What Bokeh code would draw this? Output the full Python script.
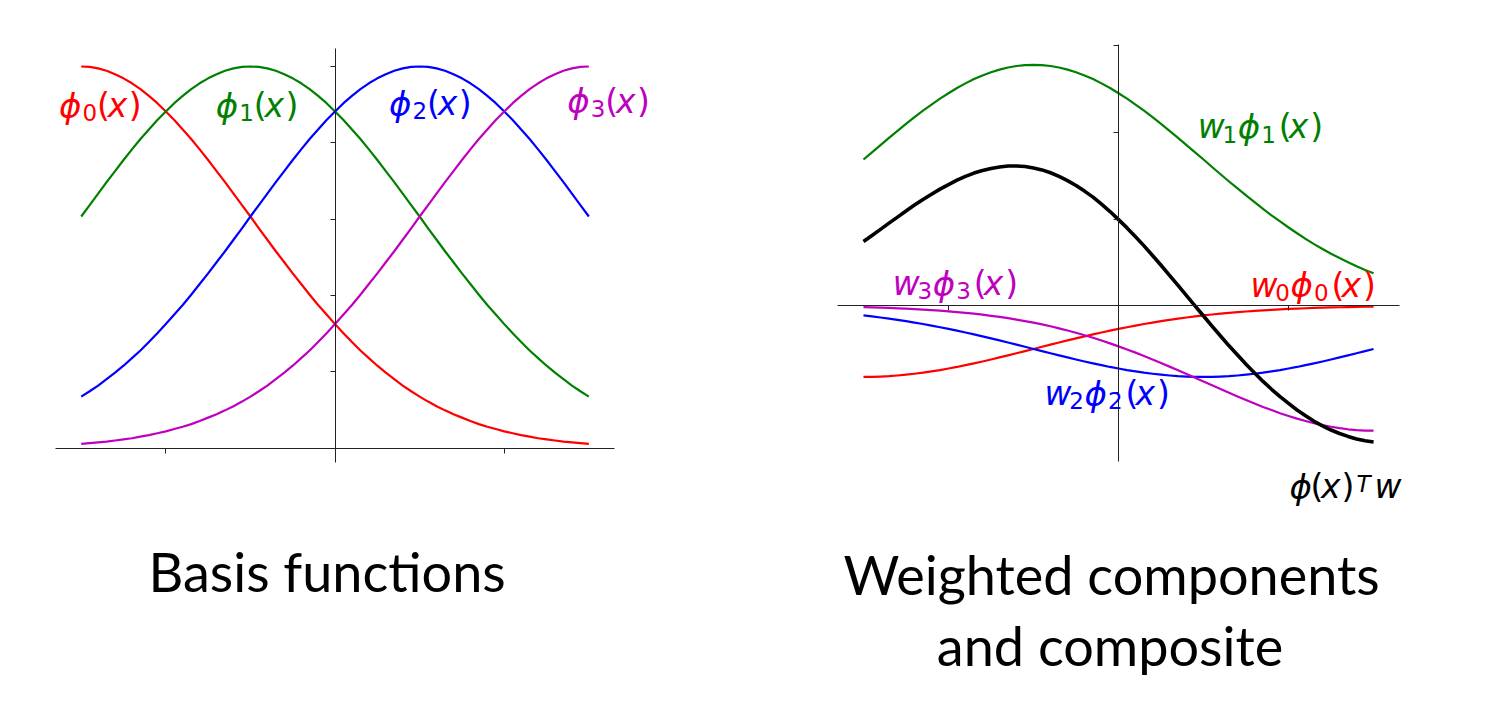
from bokeh.plotting import figure
from bokeh.layouts import row
from bokeh.models import Label, FixedTicker, Range1d
from bokeh.embed import file_html
from bokeh.resources import INLINE

# ---- data ----
x = [-1.50, -1.45, -1.40, -1.35, -1.30, -1.25, -1.20, -1.15, -1.10, -1.05,
     -1.00, -0.95, -0.90, -0.85, -0.80, -0.75, -0.70, -0.65, -0.60, -0.55,
     -0.50, -0.45, -0.40, -0.35, -0.30, -0.25, -0.20, -0.15, -0.10, -0.05,
     0.00, 0.05, 0.10, 0.15, 0.20, 0.25, 0.30, 0.35, 0.40, 0.45,
     0.50, 0.55, 0.60, 0.65, 0.70, 0.75, 0.80, 0.85, 0.90, 0.95,
     1.00, 1.05, 1.10, 1.15, 1.20, 1.25, 1.30, 1.35, 1.40, 1.45, 1.50]

phi0 = [1.000, 0.999, 0.995, 0.989, 0.980, 0.969, 0.956, 0.941, 0.923, 0.904,
        0.882, 0.860, 0.835, 0.810, 0.783, 0.755, 0.726, 0.697, 0.667, 0.637,
        0.607, 0.576, 0.546, 0.516, 0.487, 0.458, 0.430, 0.402, 0.375, 0.350,
        0.325, 0.301, 0.278, 0.256, 0.236, 0.216, 0.198, 0.181, 0.164, 0.149,
        0.135, 0.122, 0.110, 0.099, 0.089, 0.080, 0.071, 0.063, 0.056, 0.050,
        0.044, 0.039, 0.034, 0.030, 0.026, 0.023, 0.020, 0.017, 0.015, 0.013, 0.011]
phi1 = [0.607, 0.637, 0.667, 0.697, 0.726, 0.755, 0.783, 0.810, 0.835, 0.860,
        0.882, 0.904, 0.923, 0.941, 0.956, 0.969, 0.980, 0.989, 0.995, 0.999,
        1.000, 0.999, 0.995, 0.989, 0.980, 0.969, 0.956, 0.941, 0.923, 0.904,
        0.882, 0.860, 0.835, 0.810, 0.783, 0.755, 0.726, 0.697, 0.667, 0.637,
        0.607, 0.576, 0.546, 0.516, 0.487, 0.458, 0.430, 0.402, 0.375, 0.350,
        0.325, 0.301, 0.278, 0.256, 0.236, 0.216, 0.198, 0.181, 0.164, 0.149, 0.135]
phi2 = [0.135, 0.149, 0.164, 0.181, 0.198, 0.216, 0.236, 0.256, 0.278, 0.301,
        0.325, 0.350, 0.375, 0.402, 0.430, 0.458, 0.487, 0.516, 0.546, 0.576,
        0.607, 0.637, 0.667, 0.697, 0.726, 0.755, 0.783, 0.810, 0.835, 0.860,
        0.882, 0.904, 0.923, 0.941, 0.956, 0.969, 0.980, 0.989, 0.995, 0.999,
        1.000, 0.999, 0.995, 0.989, 0.980, 0.969, 0.956, 0.941, 0.923, 0.904,
        0.882, 0.860, 0.835, 0.810, 0.783, 0.755, 0.726, 0.697, 0.667, 0.637, 0.607]
phi3 = [0.011, 0.013, 0.015, 0.017, 0.020, 0.023, 0.026, 0.030, 0.034, 0.039,
        0.044, 0.050, 0.056, 0.063, 0.071, 0.080, 0.089, 0.099, 0.110, 0.122,
        0.135, 0.149, 0.164, 0.181, 0.198, 0.216, 0.236, 0.256, 0.278, 0.301,
        0.325, 0.350, 0.375, 0.402, 0.430, 0.458, 0.487, 0.516, 0.546, 0.576,
        0.607, 0.637, 0.667, 0.697, 0.726, 0.755, 0.783, 0.810, 0.835, 0.860,
        0.882, 0.904, 0.923, 0.941, 0.956, 0.969, 0.980, 0.989, 0.995, 0.999, 1.000]

weights = [-0.41, 1.39, -0.41, -0.72]

basis_index = ["0", "1", "2", "3"]
caption_left = ["Basis functions"]
caption_right = ["Weighted components", "and composite"]

x_ticks = [-1, 0, 1]
left_y_ticks = [0.2, 0.4, 0.6, 0.8, 1.0]
right_y_ticks = [-0.5, 0.0, 0.5, 1.0, 1.5]

# ---- styling / layout ----
colors = ["#ff0000", "#008000", "#0000ff", "#bf00bf"]
LBL_FONT = "DejaVu Sans"
CAP_FONT = "Lato"
MAIN_FS = 33
PHI_FS = 34
SUB_FS = 23

# axes (spine) extents in data units
left_xbounds = (-1.65, 1.65)
left_ybounds = (-0.037, 1.047)
right_xbounds = (-1.65, 1.65)
right_ybounds = (-0.90, 1.505)

# visible canvas ranges (frame covers each whole figure)
left_xr = (-1.977, 2.278)
left_yr = (-0.677, 1.173)
right_xr = (-2.341, 2.129)
right_yr = (-2.311, 1.761)

basis_label_pos = [(-1.631, 0.8976), (-0.705, 0.8976), (0.319, 0.9028), (1.373, 0.909)]
weighted_label_pos = [(0.7765, 0.1188), (0.4665, 1.0317), (-0.4353, -0.5063), (-1.328, 0.128)]
composite_label_pos = (1.006, -1.044)
caption_left_pos = [(-0.047, -0.322)]
caption_right_pos = [(-0.041, -1.55), (-0.05, -1.96)]

phis = [phi0, phi1, phi2, phi3]


def make_fig(w, h, xr, yr, xb, yb, xt, yt):
    p = figure(output_backend="svg", toolbar_location=None,
               frame_width=w, frame_height=h,
               min_border=0, min_border_left=0, min_border_right=0,
               min_border_top=0, min_border_bottom=0,
               x_range=Range1d(*xr), y_range=Range1d(*yr))
    p.xgrid.visible = False
    p.ygrid.visible = False
    p.outline_line_color = None
    p.background_fill_color = "white"
    p.border_fill_color = "white"
    for ax, t, b in ((p.xaxis[0], xt, xb), (p.yaxis[0], yt, yb)):
        ax.fixed_location = 0
        ax.bounds = b
        ax.ticker = FixedTicker(ticks=t)
        ax.major_label_text_font_size = "0px"
        ax.major_label_text_color = None
        ax.major_tick_in = 0
        ax.major_tick_out = 5
        ax.minor_tick_line_color = None
        ax.axis_line_color = "#222222"
        ax.major_tick_line_color = "#222222"
        ax.axis_line_width = 1
        ax.major_tick_line_width = 1
    return p


def add_math(p, pos, pieces, color):
    """pieces: (text, dx_px, dy_px, italic, font_px) -- mathtext-like layout"""
    for text, dx, dy, italic, fs in pieces:
        p.add_layout(Label(x=pos[0], y=pos[1], x_offset=dx, y_offset=dy,
                           text=text, text_color=color, text_font=LBL_FONT,
                           text_font_style="italic" if italic else "normal",
                           text_font_size=f"{fs}px", text_align="left",
                           text_baseline="alphabetic"))


def basis_pieces(i):
    return [("ϕ", 0, 0, True, PHI_FS), (i, 23.5, -7.2, False, SUB_FS),
            ("(", 38, 0, False, MAIN_FS), ("x", 48.7, 0, True, MAIN_FS),
            (")", 69.7, 0, False, MAIN_FS)]


def weighted_pieces(i):
    return [("w", 0, 0, True, MAIN_FS), (i, 24.7, -7.2, False, SUB_FS),
            ("ϕ", 40, 0, True, PHI_FS), (i, 63.5, -7.2, False, SUB_FS),
            ("(", 81, 0, False, MAIN_FS), ("x", 91, 0, True, MAIN_FS),
            (")", 112.5, 0, False, MAIN_FS)]


composite_pieces = [("ϕ", 0, 0, True, PHI_FS), ("(", 21, 0, False, MAIN_FS),
                    ("x", 31.5, 0, True, MAIN_FS), (")", 52, 0, False, MAIN_FS),
                    ("T", 67, 3, True, SUB_FS), ("w", 85, 0, True, MAIN_FS)]


def add_caption(p, text, pos):
    p.add_layout(Label(x=pos[0], y=pos[1], text=text, text_color="black",
                       text_font=CAP_FONT, text_font_style="normal",
                       text_font_size="54px", text_align="center",
                       text_baseline="alphabetic"))


# ---- left panel ----
p1 = make_fig(720, 706, left_xr, left_yr, left_xbounds, left_ybounds,
              x_ticks, left_y_ticks)
for ph, c in zip(phis, colors):
    p1.line(x, ph, line_color=c, line_width=2.2, line_join="round")
for i, pos, c in zip(basis_index, basis_label_pos, colors):
    add_math(p1, pos, basis_pieces(i), c)
for t, pos in zip(caption_left, caption_left_pos):
    add_caption(p1, t, pos)

# ---- right panel ----
p2 = make_fig(760, 706, right_xr, right_yr, right_xbounds, right_ybounds,
              x_ticks, right_y_ticks)
weighted = [[w * v for v in ph] for w, ph in zip(weights, phis)]
composite = [sum(vals) for vals in zip(*weighted)]
for wv, c in zip(weighted, colors):
    p2.line(x, wv, line_color=c, line_width=2.2, line_join="round")
p2.line(x, composite, line_color="black", line_width=3.6, line_join="round")
for i, pos, c in zip(basis_index, weighted_label_pos, colors):
    add_math(p2, pos, weighted_pieces(i), c)
add_math(p2, composite_label_pos, composite_pieces, "black")
for t, pos in zip(caption_right, caption_right_pos):
    add_caption(p2, t, pos)

layout = row(p1, p2)
open("out.html", "w").write(file_html(layout, INLINE))
